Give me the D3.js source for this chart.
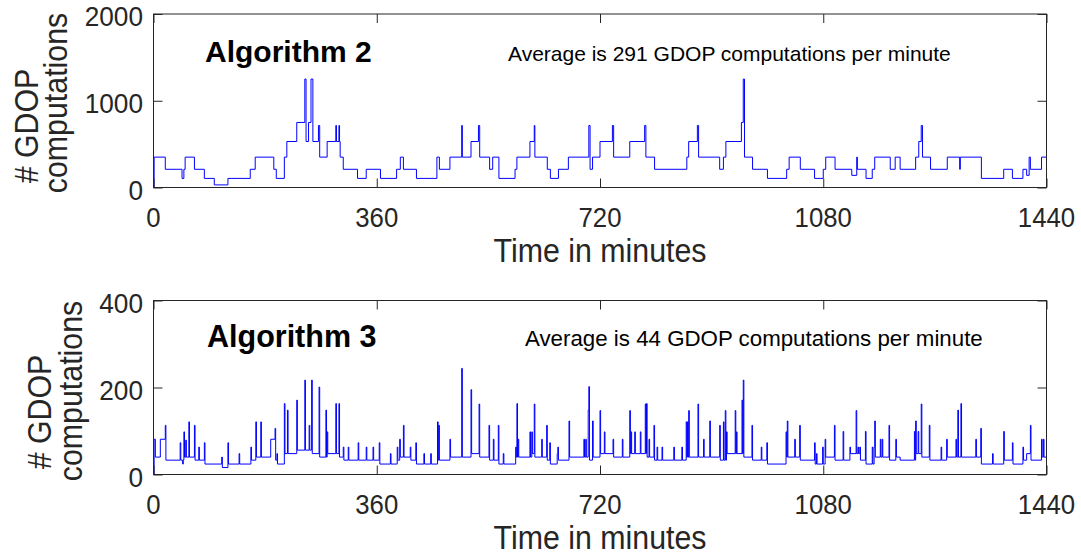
<!DOCTYPE html>
<html>
<head>
<meta charset="utf-8">
<script src="https://cdn.jsdelivr.net/npm/d3@7"></script>
<style>
html,body{margin:0;padding:0;background:#fff;}
svg{display:block;font-family:"Liberation Sans",Arial,Helvetica,sans-serif;}
</style>
</head>
<body>
<svg id="chart" width="1081" height="555"></svg>
<script>
// ---------------- DATA ----------------
const xTickValues = [0, 360, 720, 1080, 1440];
const alg2YTicks = [0, 1000, 2000];
const alg3YTicks = [0, 200, 400];
const alg2Title = "Algorithm 2";
const alg3Title = "Algorithm 3";
const alg2Note = "Average is 291 GDOP computations per minute";
const alg3Note = "Average is 44 GDOP computations per minute";
const xLabel = "Time in minutes";
const yLabelLines = ["# GDOP", "computations"];

// [minute at which the level starts, GDOP computations per minute]
const alg2Steps = [
[0,0],[1,350],[19,210],[46,105],[49,210],[51,350],[66,210],[82,105],[98,30],[120,105],[156,210],[164,350],
[194,210],[198,105],[211,350],[215,530],[231,750],[244,1250],[246,530],[250,750],[254,1250],[257,530],[266,715],
[268,350],[280,530],[294,715],[295,530],[299,715],[300,530],[301,350],[306,210],[329,105],[343,210],[366,105],
[392,210],[398,350],[403,210],[424,105],[457,350],[461,210],[478,350],[497,715],[498,350],[512,530],[524,715],
[526,350],[542,210],[547,350],[557,105],[583,210],[586,350],[607,530],[614,715],[615,350],[635,210],[640,105],
[653,210],[669,350],[702,715],[704,210],[708,350],[720,530],[740,715],[742,350],[768,530],[792,715],[794,350],
[808,210],[860,350],[863,530],[877,715],[879,350],[913,210],[919,350],[923,530],[948,750],[951,1250],[953,350],
[966,210],[990,105],[1021,210],[1025,350],[1043,210],[1066,105],[1080,210],[1084,350],[1099,210],[1126,140],
[1134,350],[1135,210],[1149,105],[1159,210],[1163,350],[1188,210],[1196,350],[1204,210],[1229,350],[1234,530],
[1238,715],[1240,350],[1253,210],[1280,350],[1300,210],[1301,350],[1335,105],[1371,210],[1385,105],[1402,210],
[1408,140],[1412,350],[1414,210],[1432,350],[1440,350]
];

const alg3Steps = [
[0,0],[1,81],[3,40],[11,81],[19,113],[20,33],[43,73],[44,33],[47,24],[48,33],[49,98],[50,40],[52,79],[53,40],
[57,121],[58,40],[66,113],[67,33],[73,63],[74,33],[82,73],[83,24],[110,40],[111,16],[120,73],[121,24],[138,48],
[139,24],[157,63],[158,33],[165,121],[166,40],[173,121],[174,40],[189,81],[196,106],[197,33],[199,48],[200,24],
[211,163],[212,48],[216,148],[217,48],[231,171],[232,56],[244,217],[245,56],[251,113],[252,56],[255,217],[256,48],
[267,201],[268,40],[278,148],[279,40],[280,98],[281,48],[294,163],[295,48],[299,163],[300,40],[306,63],[307,33],
[314,63],[315,33],[330,73],[331,33],[343,63],[344,33],[354,63],[355,33],[364,73],[365,24],[382,48],[383,24],
[393,63],[394,33],[397,81],[398,40],[403,113],[404,40],[414,63],[415,33],[423,73],[424,24],[436,48],[437,24],
[447,48],[448,24],[458,121],[459,33],[460,113],[461,33],[478,81],[479,40],[497,244],[498,40],[512,195],[513,48],
[525,162],[526,40],[541,113],[542,33],[548,81],[549,33],[556,113],[557,24],[564,48],[565,24],[584,63],[585,40],
[586,163],[587,40],[588,81],[589,40],[607,98],[608,40],[610,98],[611,48],[614,162],[615,40],[626,81],[627,40],
[634,113],[635,33],[639,73],[640,24],[651,48],[652,63],[653,33],[670,123],[671,40],[694,81],[695,40],[697,81],
[698,40],[701,148],[702,202],[703,33],[708,123],[709,40],[720,147],[721,48],[727,98],[728,48],[741,81],[742,40],
[756,81],[757,40],[768,147],[769,48],[770,98],[771,48],[776,98],[777,48],[785,98],[786,48],[793,162],[794,48],
[795,163],[796,40],[799,81],[800,40],[807,113],[808,33],[812,63],[813,33],[820,63],[821,33],[839,63],[840,33],
[852,63],[853,33],[859,121],[860,40],[861,121],[862,40],[863,147],[864,40],[878,162],[879,40],[887,81],[888,40],
[897,123],[898,40],[913,113],[914,33],[919,121],[920,33],[922,147],[923,33],[924,98],[925,48],[938,147],[939,48],
[940,98],[941,48],[949,171],[950,48],[951,217],[952,40],[965,113],[966,33],[980,63],[981,33],[989,73],[990,24],
[1020,98],[1021,40],[1022,123],[1023,40],[1034,81],[1035,40],[1042,113],[1043,33],[1066,73],[1067,24],[1069,48],
[1070,24],[1079,63],[1080,24],[1083,81],[1084,40],[1098,113],[1099,33],[1112,99],[1113,33],[1123,63],[1124,48],
[1133,147],[1134,48],[1136,63],[1137,48],[1139,63],[1140,33],[1148,99],[1149,24],[1159,63],[1160,24],[1162,63],
[1163,123],[1164,40],[1172,81],[1173,40],[1175,81],[1176,40],[1186,113],[1187,33],[1197,81],[1198,40],[1204,33],
[1227,99],[1228,33],[1229,123],[1230,48],[1233,99],[1234,48],[1238,162],[1239,40],[1251,113],[1252,33],[1270,63],
[1271,33],[1279,81],[1280,40],[1294,81],[1295,40],[1297,148],[1298,40],[1302,163],[1303,40],[1326,81],[1327,40],
[1334,106],[1335,24],[1353,48],[1354,24],[1371,99],[1372,33],[1385,73],[1386,24],[1402,63],[1403,33],[1408,48],
[1414,113],[1415,33],[1432,81],[1433,40],[1435,81],[1436,40],[1440,40]
];

// ---------------- LAYOUT ----------------
const svg = d3.select("#chart");
const axisColor = "#262626";
const lineColor = "#0000ff";
const plotLeft = 153.5, plotRight = 1046.5;
const x = d3.scaleLinear().domain([0, 1440]).range([plotLeft, plotRight]);

const panels = [
  { steps: alg2Steps, yTicks: alg2YTicks, yMax: 2000, top: 14, bottom: 187.5,
    title: alg2Title, note: alg2Note, titleX: 205, noteX: 508, textY: 62,
    titleSize: 30, noteSize: 21,
    yl1X: 38, yl1Y: 126, yl2X: 67, yl2Y: 103 },
  { steps: alg3Steps, yTicks: alg3YTicks, yMax: 400, top: 300.5, bottom: 474.5,
    title: alg3Title, note: alg3Note, titleX: 207, noteX: 525, textY: 347,
    titleSize: 30.5, noteSize: 22.3,
    yl1X: 51, yl1Y: 412, yl2X: 82, yl2Y: 391 }
];

const tickLen = 9;
const squeeze = 0.92;

function squeezedText(g, str, tx, ty, size, anchor, rotate) {
  const rot = rotate ? " rotate(-90)" : "";
  return g.append("text")
    .attr("transform", `translate(${tx},${ty})${rot} scale(${squeeze},1)`)
    .attr("text-anchor", anchor)
    .attr("font-size", size)
    .attr("fill", axisColor)
    .text(str);
}

panels.forEach(p => {
  const y = d3.scaleLinear().domain([0, p.yMax]).range([p.bottom, p.top]);
  const g = svg.append("g");

  const line = d3.line()
    .x(d => x(d[0]))
    .y(d => y(d[1]))
    .curve(d3.curveStepAfter);
  g.append("path")
    .datum(p.steps)
    .attr("fill", "none")
    .attr("stroke", lineColor)
    .attr("stroke-width", 1)
    .attr("d", line);

  const axB = d3.axisBottom(x).tickValues(xTickValues).tickSizeInner(-tickLen).tickSizeOuter(0).tickFormat("");
  const axT = d3.axisTop(x).tickValues(xTickValues).tickSizeInner(-tickLen).tickSizeOuter(0).tickFormat("");
  const axL = d3.axisLeft(y).tickValues(p.yTicks).tickSizeInner(-tickLen).tickSizeOuter(0).tickFormat("");
  const axR = d3.axisRight(y).tickValues(p.yTicks).tickSizeInner(-tickLen).tickSizeOuter(0).tickFormat("");
  [[axB, `translate(0,${p.bottom})`], [axT, `translate(0,${p.top})`],
   [axL, `translate(${plotLeft},0)`], [axR, `translate(${plotRight},0)`]].forEach(([ax, tr]) => {
    const a = g.append("g").attr("transform", tr).call(ax);
    a.select(".domain").remove();
    a.selectAll("line").attr("stroke", axisColor).attr("stroke-width", 1);
  });

  g.append("rect")
    .attr("x", plotLeft).attr("y", p.top)
    .attr("width", plotRight - plotLeft).attr("height", p.bottom - p.top)
    .attr("fill", "none").attr("stroke", axisColor).attr("stroke-width", 1);

  xTickValues.forEach(v => squeezedText(g, String(v), x(v), p.bottom + 39, 28, "middle", false));
  p.yTicks.forEach(v => squeezedText(g, String(v), 143, y(v) + 12, 28.5, "end", false));

  squeezedText(g, xLabel, (plotLeft + plotRight) / 2, p.bottom + 74.5, 33, "middle", false);
  squeezedText(g, yLabelLines[0], p.yl1X, p.yl1Y, 33, "middle", true);
  squeezedText(g, yLabelLines[1], p.yl2X, p.yl2Y, 33, "middle", true);

  g.append("text").attr("x", p.titleX).attr("y", p.textY)
    .attr("font-size", p.titleSize).attr("font-weight", "bold").attr("fill", "#000").text(p.title);
  g.append("text").attr("x", p.noteX).attr("y", p.textY - 1)
    .attr("font-size", p.noteSize).attr("fill", "#000").text(p.note);
});
</script>
</body>
</html>
